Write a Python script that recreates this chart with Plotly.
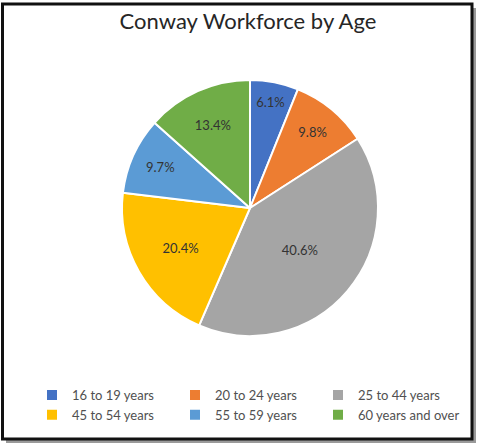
import plotly.graph_objects as go

W, H = 478, 445

categories = ["16 to 19 years", "20 to 24 years", "25 to 44 years",
              "45 to 54 years", "55 to 59 years", "60 years and over"]
shares = [6.1, 9.8, 40.6, 20.4, 9.7, 13.4]
colors = ["#4472C4", "#ED7D31", "#A5A5A5", "#FFC000", "#5B9BD5", "#70AD47"]
title_text = "Conway Workforce by Age"

cx, cy, r = 250, 208, 128

fig = go.Figure(go.Pie(
    labels=categories,
    values=shares,
    sort=False,
    direction="clockwise",
    rotation=0,
    marker=dict(colors=colors, line=dict(color="white", width=2)),
    texttemplate="%{value:.1f}%",
    textposition="inside",
    insidetextorientation="horizontal",
    textfont=dict(family="Lato, sans-serif", size=13, color="#333333"),
    hoverinfo="label+percent",
    domain=dict(x=[(cx - r) / W, (cx + r) / W],
                y=[1 - (cy + r) / H, 1 - (cy - r) / H]),
))

shapes = [
    # shadow
    dict(type="rect", xref="paper", yref="paper", layer="below",
         x0=6 / W, x1=476 / W, y0=1 - 443 / H, y1=1 - 8 / H,
         fillcolor="#9a9a9a", line=dict(width=0)),
    # frame
    dict(type="rect", xref="paper", yref="paper", layer="below",
         x0=2.5 / W, x1=472 / W, y0=1 - 439 / H, y1=1 - 4 / H,
         fillcolor="white", line=dict(color="#111111", width=3)),
]

fig.update_layout(
    width=W, height=H,
    margin=dict(l=0, r=0, t=0, b=0, autoexpand=False),
    paper_bgcolor="white",
    plot_bgcolor="white",
    shapes=shapes,
    title=dict(text=title_text, x=248 / W, xanchor="center",
               y=1 - 21 / H, yanchor="middle",
               font=dict(family="Lato, sans-serif", size=22, color="#262626")),
    showlegend=True,
    legend=dict(orientation="h", x=32 / W, xanchor="left",
                y=1 - 380 / H, yanchor="top",
                entrywidth=98, entrywidthmode="pixels",
                font=dict(family="Lato, sans-serif", size=13, color="#505050"),
                itemwidth=30, tracegroupgap=0,
                bgcolor="rgba(0,0,0,0)"),
)

fig.write_html("out.html",
               config={"displayModeBar": False},
               post_script="document.body.style.margin='0';"
                           "document.body.style.overflow='hidden';")
